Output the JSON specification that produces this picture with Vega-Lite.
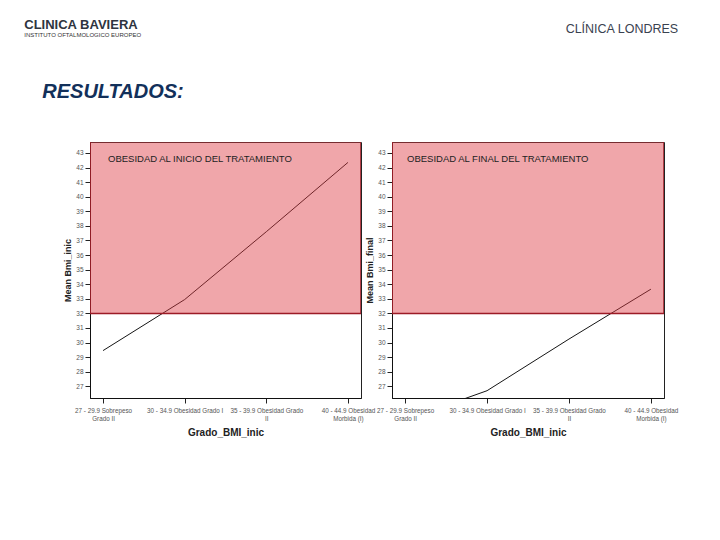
{
  "$schema": "https://vega.github.io/schema/vega-lite/v6.json",
  "background": "white",
  "padding": {"left": 24, "top": 18, "right": 5, "bottom": 5},
  "config": {
    "font": "Liberation Sans",
    "view": {"stroke": "#222", "strokeWidth": 1},
    "axis": {"grid": false, "domainColor": "#111", "tickColor": "#222", "tickSize": 5, "labelColor": "#555", "titleColor": "#222", "titleFontWeight": "bold"}
  },
  "datasets": {
    "inicio": [
      {"grado": "27 - 29.9 Sobrepeso Grado II", "media": 29.45},
      {"grado": "30 - 34.9 Obesidad Grado I", "media": 32.95},
      {"grado": "35 - 39.9 Obesidad Grado II", "media": 37.6},
      {"grado": "40 - 44.9 Obesidad Morbida (I)", "media": 42.35}
    ],
    "final": [
      {"grado": "27 - 29.9 Sobrepeso Grado II", "media": 24.7},
      {"grado": "30 - 34.9 Obesidad Grado I", "media": 26.7},
      {"grado": "35 - 39.9 Obesidad Grado II", "media": 30.24},
      {"grado": "40 - 44.9 Obesidad Morbida (I)", "media": 33.66}
    ],
    "obesidad": [
      {"desde": 32, "hasta": 45}
    ]
  },
  "title": {"text": "CLÍNICA LONDRES", "anchor": "end", "fontSize": 12.5, "fontWeight": "normal", "color": "#3a4250", "dx": 0, "dy": 17, "offset": 0},
  "vconcat": [
    {
      "title": {"text": "CLINICA BAVIERA", "subtitle": "INSTITUTO OFTALMOLOGICO EUROPEO", "anchor": "start", "fontSize": 13, "fontWeight": "bold", "color": "#2e3440", "subtitleFontSize": 6, "subtitleColor": "#333", "subtitlePadding": 0, "offset": 44, "dx": -18},
      "vconcat": [
        {
          "title": {"text": "RESULTADOS:", "anchor": "start", "fontSize": 20, "fontStyle": "italic", "fontWeight": "bold", "color": "#12305a", "offset": 40, "dx": -21},
          "bounds": "flush",
          "spacing": 31,
          "hconcat": [
            {
              "width": 271,
              "height": 256,
              "title": {"text": "OBESIDAD AL INICIO DEL TRATAMIENTO", "anchor": "start", "frame": "group", "offset": -21, "dx": 18, "fontSize": 9.5, "fontWeight": "normal", "color": "#222"},
              "layer": [
                {
                  "data": {"name": "inicio"},
                  "mark": {"type": "line", "color": "#151515", "strokeWidth": 1, "clip": true},
                  "encoding": {
                    "x": {"field": "grado", "type": "ordinal", "sort": null, "scale": {"type": "point", "padding": 0.16},
                      "axis": {"title": "Grado_BMI_inic", "titleFontSize": 10, "titlePadding": 6, "labelAngle": 0, "labelFontSize": 6.3, "labelPadding": 4, "labelLineHeight": 8,
                        "labelExpr": "datum.label == '27 - 29.9 Sobrepeso Grado II' ? ['27 - 29.9 Sobrepeso', 'Grado II'] : datum.label == '35 - 39.9 Obesidad Grado II' ? ['35 - 39.9 Obesidad Grado', 'II'] : datum.label == '40 - 44.9 Obesidad Morbida (I)' ? ['40 - 44.9 Obesidad', 'Morbida (I)'] : datum.label"}},
                    "y": {"field": "media", "type": "quantitative", "scale": {"domain": [26.2, 43.75], "nice": false, "zero": false},
                      "axis": {"title": "Mean Bmi_inic", "titleFontSize": 9, "titlePadding": 3, "values": [27,28,29,30,31,32,33,34,35,36,37,38,39,40,41,42,43], "labelOverlap": false, "labelFontSize": 6.5, "labelPadding": 2}}
                  }
                },
                {
                  "data": {"name": "obesidad"},
                  "mark": {"type": "rect", "clip": true, "fill": "#dd3a42", "fillOpacity": 0.45, "stroke": "#9c1b26", "strokeWidth": 1.5},
                  "encoding": {
                    "y": {"field": "desde", "type": "quantitative",
                      "axis": {"title": "Mean Bmi_inic", "titleFontSize": 9, "titlePadding": 3, "values": [27,28,29,30,31,32,33,34,35,36,37,38,39,40,41,42,43], "labelOverlap": false, "labelFontSize": 6.5, "labelPadding": 2}},
                    "y2": {"field": "hasta"}
                  }
                }
              ]
            },
            {
              "width": 272,
              "height": 256,
              "title": {"text": "OBESIDAD AL FINAL DEL TRATAMIENTO", "anchor": "start", "frame": "group", "offset": -21, "dx": 15, "fontSize": 9.5, "fontWeight": "normal", "color": "#222"},
              "layer": [
                {
                  "data": {"name": "final"},
                  "mark": {"type": "line", "color": "#151515", "strokeWidth": 1, "clip": true},
                  "encoding": {
                    "x": {"field": "grado", "type": "ordinal", "sort": null, "scale": {"type": "point", "padding": 0.16},
                      "axis": {"title": "Grado_BMI_inic", "titleFontSize": 10, "titlePadding": 6, "labelAngle": 0, "labelFontSize": 6.3, "labelPadding": 4, "labelLineHeight": 8,
                        "labelExpr": "datum.label == '27 - 29.9 Sobrepeso Grado II' ? ['27 - 29.9 Sobrepeso', 'Grado II'] : datum.label == '35 - 39.9 Obesidad Grado II' ? ['35 - 39.9 Obesidad Grado', 'II'] : datum.label == '40 - 44.9 Obesidad Morbida (I)' ? ['40 - 44.9 Obesidad', 'Morbida (I)'] : datum.label"}},
                    "y": {"field": "media", "type": "quantitative", "scale": {"domain": [26.2, 43.75], "nice": false, "zero": false},
                      "axis": {"title": "Mean Bmi_final", "titleFontSize": 9, "titlePadding": 3, "values": [27,28,29,30,31,32,33,34,35,36,37,38,39,40,41,42,43], "labelOverlap": false, "labelFontSize": 6.5, "labelPadding": 2}}
                  }
                },
                {
                  "data": {"name": "obesidad"},
                  "mark": {"type": "rect", "clip": true, "fill": "#dd3a42", "fillOpacity": 0.45, "stroke": "#9c1b26", "strokeWidth": 1.5},
                  "encoding": {
                    "y": {"field": "desde", "type": "quantitative",
                      "axis": {"title": "Mean Bmi_final", "titleFontSize": 9, "titlePadding": 3, "values": [27,28,29,30,31,32,33,34,35,36,37,38,39,40,41,42,43], "labelOverlap": false, "labelFontSize": 6.5, "labelPadding": 2}},
                    "y2": {"field": "hasta"}
                  }
                }
              ]
            }
          ]
        }
      ]
    }
  ]
}
